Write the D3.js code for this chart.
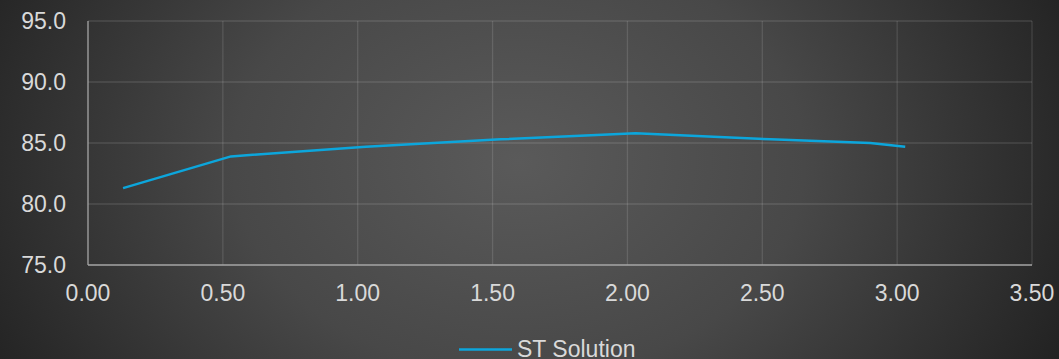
<!DOCTYPE html>
<html>
<head>
<meta charset="utf-8">
<script src="https://cdn.jsdelivr.net/npm/d3@7"></script>
<style>
  body { margin: 0; background: #222; }
  svg { display: block; }
  text { font-family: "Liberation Sans", Arial, sans-serif; fill: #d9d9d9; }
</style>
</head>
<body>
<div id="chart"></div>
<script>
// data
const xValues = [0.13, 0.53, 1.03, 1.53, 2.03, 2.53, 2.9, 3.03];
const yValues = [81.3, 83.9, 84.7, 85.3, 85.8, 85.3, 85.0, 84.7];
const seriesName = "ST Solution";
const xTicks = [0, 0.5, 1, 1.5, 2, 2.5, 3, 3.5];
const yTicks = [75, 80, 85, 90, 95];

const width = 1059, height = 359;
const margin = {left: 88, right: 27, top: 21, bottom: 94};

const svg = d3.select("#chart").append("svg")
  .attr("width", width)
  .attr("height", height);

// background: radial glow, like the office chart style
const defs = svg.append("defs");
const grad = defs.append("radialGradient")
  .attr("id", "bg")
  .attr("cx", "49%").attr("cy", "45%")
  .attr("r", "60%")
  .attr("gradientTransform", "translate(0.49,0.45) scale(1,2.2) translate(-0.49,-0.45)");
grad.append("stop").attr("offset", "0%").attr("stop-color", "#5a5a5a");
grad.append("stop").attr("offset", "45%").attr("stop-color", "#484848");
grad.append("stop").attr("offset", "100%").attr("stop-color", "#1e1e1e");

svg.append("rect")
  .attr("width", width).attr("height", height)
  .attr("fill", "url(#bg)");

const x = d3.scaleLinear().domain([0, 3.5]).range([margin.left, width - margin.right]);
const y = d3.scaleLinear().domain([75, 95]).range([height - margin.bottom, margin.top]);

// gridlines
svg.append("g").selectAll("line")
  .data(yTicks.slice(1))
  .join("line")
  .attr("x1", x(0)).attr("x2", x(3.5))
  .attr("y1", d => y(d)).attr("y2", d => y(d))
  .attr("stroke", "rgba(255,255,255,0.12)")
  .attr("stroke-width", 1.3);

svg.append("g").selectAll("line")
  .data(xTicks.slice(1))
  .join("line")
  .attr("x1", d => x(d)).attr("x2", d => x(d))
  .attr("y1", y(75)).attr("y2", y(95))
  .attr("stroke", "rgba(255,255,255,0.12)")
  .attr("stroke-width", 1.3);

// axis lines
svg.append("line")
  .attr("x1", x(0)).attr("x2", x(0))
  .attr("y1", y(75)).attr("y2", y(95))
  .attr("stroke", "#a6a6a6").attr("stroke-width", 1.3);
svg.append("line")
  .attr("x1", x(0)).attr("x2", x(3.5))
  .attr("y1", y(75)).attr("y2", y(75))
  .attr("stroke", "#a6a6a6").attr("stroke-width", 1.6);

// tick labels
svg.append("g").selectAll("text")
  .data(yTicks)
  .join("text")
  .attr("x", 66)
  .attr("y", d => y(d))
  .attr("dy", "0.36em")
  .attr("text-anchor", "end")
  .style("font-size", "23px")
  .text(d => d3.format(".1f")(d));

svg.append("g").selectAll("text")
  .data(xTicks)
  .join("text")
  .attr("x", d => x(d))
  .attr("y", 300.5)
  .attr("text-anchor", "middle")
  .style("font-size", "23px")
  .text(d => d3.format(".2f")(d));

// series line
const pts = xValues.map((v, i) => [v, yValues[i]]);
svg.append("path")
  .datum(pts)
  .attr("fill", "none")
  .attr("stroke", "#0ca6dc")
  .attr("stroke-width", 2.5)
  .attr("stroke-linejoin", "round")
  .attr("d", d3.line().x(d => x(d[0])).y(d => y(d[1])));

// legend
const lg = svg.append("g");
lg.append("line")
  .attr("x1", 459).attr("x2", 512)
  .attr("y1", 349.5).attr("y2", 349.5)
  .attr("stroke", "#0ca6dc").attr("stroke-width", 2.5);
lg.append("text")
  .attr("x", 517).attr("y", 357)
  .style("font-size", "23px")
  .text(seriesName);
</script>
</body>
</html>
